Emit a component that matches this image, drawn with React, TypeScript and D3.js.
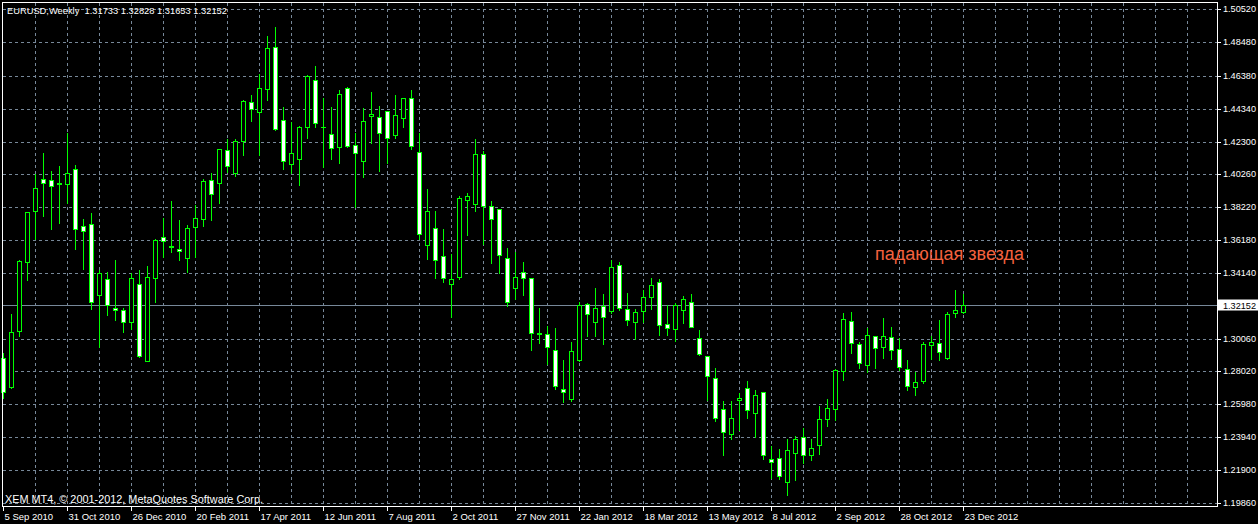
import React from "react";
import * as d3 from "d3";

// Weekly EURUSD candles, 5 Sep 2010 .. 23 Dec 2012
const opens = [
  1.2885, 1.2705, 1.3056, 1.3482, 1.3799, 1.3998, 1.3991, 1.3965, 1.3966, 1.4060,
  1.3705, 1.3718, 1.3277, 1.3376, 1.3196, 1.3183, 1.3109, 1.3345, 1.2867, 1.3382,
  1.3637, 1.3578, 1.3561, 1.3505, 1.3697, 1.3751, 1.3989, 1.3971, 1.4176, 1.4037,
  1.4232, 1.4474, 1.4412, 1.4559, 1.4816, 1.4362, 1.4089, 1.4124, 1.4319, 1.4611,
  1.4318, 1.4275, 1.4195, 1.4561, 1.4207, 1.4108, 1.4387, 1.4381, 1.4418, 1.4269,
  1.4375, 1.4499, 1.4163, 1.3586, 1.3691, 1.3517, 1.3343, 1.3387, 1.3865, 1.3840,
  1.4151, 1.3828, 1.3809, 1.3505, 1.3318, 1.3418, 1.3381, 1.3037, 1.3033, 1.2933,
  1.2691, 1.2629, 1.2871, 1.3219, 1.3107, 1.3206, 1.3175, 1.3461, 1.3188, 1.3107,
  1.3175, 1.3262, 1.3356, 1.3095, 1.3064, 1.3182, 1.3231, 1.3008, 1.2896, 1.2759,
  1.2566, 1.2411, 1.2627, 1.2697, 1.2542, 1.2672, 1.2256, 1.2262, 1.2113, 1.2293,
  1.2392, 1.2281, 1.2343, 1.2504, 1.2566, 1.2803, 1.3113, 1.2970, 1.2840, 1.3020,
  1.2952, 1.3014, 1.2939, 1.2815, 1.2703, 1.2740, 1.2964, 1.2977, 1.2883, 1.3163,
  1.31733,
];
const highs = [
  1.2916, 1.3159, 1.3494, 1.3795, 1.4029, 1.4159, 1.4047, 1.4078, 1.4283, 1.4085,
  1.3749, 1.3786, 1.3432, 1.3420, 1.3494, 1.3196, 1.3413, 1.3432, 1.3457, 1.3625,
  1.3755, 1.3861, 1.3743, 1.3711, 1.3834, 1.3999, 1.4033, 1.4184, 1.4246, 1.4244,
  1.4486, 1.4520, 1.4648, 1.4886, 1.4942, 1.4443, 1.4350, 1.4325, 1.4642, 1.4698,
  1.4501, 1.4445, 1.4551, 1.4571, 1.4282, 1.4437, 1.4536, 1.4449, 1.4420, 1.4520,
  1.4501, 1.4549, 1.4282, 1.3934, 1.3797, 1.3685, 1.3530, 1.3890, 1.3909, 1.4244,
  1.4170, 1.3861, 1.3811, 1.3567, 1.3542, 1.3480, 1.3383, 1.3194, 1.3082, 1.3070,
  1.2873, 1.2983, 1.3231, 1.3225, 1.3318, 1.3281, 1.3492, 1.3480, 1.3289, 1.3188,
  1.3308, 1.3381, 1.3374, 1.3213, 1.3225, 1.3269, 1.3281, 1.3057, 1.2898, 1.2821,
  1.2616, 1.2616, 1.2666, 1.2740, 1.2685, 1.2674, 1.2337, 1.2318, 1.2380, 1.2399,
  1.2448, 1.2382, 1.2585, 1.2629, 1.2815, 1.3163, 1.3169, 1.2983, 1.3070, 1.3022,
  1.3132, 1.3076, 1.3008, 1.2871, 1.2796, 1.2983, 1.3020, 1.3120, 1.3169, 1.3306,
  1.32828,
];
const lows = [
  1.2637, 1.2699, 1.3022, 1.3370, 1.3625, 1.3768, 1.3687, 1.3724, 1.3848, 1.3563,
  1.3438, 1.3190, 1.2954, 1.3152, 1.3121, 1.3047, 1.3065, 1.2891, 1.2867, 1.3233,
  1.3513, 1.3541, 1.3494, 1.3422, 1.3515, 1.3707, 1.3743, 1.3850, 1.4039, 1.4018,
  1.4149, 1.4360, 1.4149, 1.4488, 1.4302, 1.4062, 1.4037, 1.3962, 1.4254, 1.4319,
  1.4069, 1.4124, 1.4099, 1.4195, 1.3822, 1.4012, 1.4223, 1.4049, 1.4099, 1.4250,
  1.4323, 1.4182, 1.3623, 1.3499, 1.3381, 1.3356, 1.3138, 1.3374, 1.3648, 1.3797,
  1.3592, 1.3477, 1.3415, 1.3206, 1.3254, 1.3275, 1.2937, 1.2977, 1.2846, 1.2691,
  1.2614, 1.2620, 1.2868, 1.3020, 1.3020, 1.2970, 1.3163, 1.3182, 1.3088, 1.3001,
  1.3107, 1.3188, 1.3026, 1.3026, 1.2989, 1.3101, 1.3075, 1.2902, 1.2622, 1.2492,
  1.2281, 1.2380, 1.2436, 1.2510, 1.2396, 1.2256, 1.2138, 1.2131, 1.2032, 1.2125,
  1.2231, 1.2250, 1.2287, 1.2461, 1.2498, 1.2747, 1.2914, 1.2821, 1.2796, 1.2821,
  1.2883, 1.2877, 1.2809, 1.2685, 1.2653, 1.2728, 1.2877, 1.2871, 1.2882, 1.3138,
  1.31653,
];
const closes = [
  1.2674, 1.3047, 1.3488, 1.3792, 1.3942, 1.3973, 1.3954, 1.3971, 1.4035, 1.3687,
  1.3674, 1.3233, 1.3413, 1.3215, 1.3183, 1.3109, 1.3382, 1.2898, 1.3389, 1.3618,
  1.3612, 1.3583, 1.3548, 1.3691, 1.3753, 1.3983, 1.3902, 1.4182, 1.4080, 1.4232,
  1.4480, 1.4431, 1.4561, 1.4810, 1.4310, 1.4111, 1.4157, 1.4319, 1.4636, 1.4344,
  1.4323, 1.4188, 1.4524, 1.4204, 1.4157, 1.4356, 1.4400, 1.4282, 1.4250, 1.4393,
  1.4499, 1.4201, 1.3654, 1.3797, 1.3492, 1.3381, 1.3374, 1.3878, 1.3890, 1.4151,
  1.3828, 1.3747, 1.3523, 1.3231, 1.3387, 1.3381, 1.3039, 1.3039, 1.2952, 1.2709,
  1.2672, 1.2927, 1.3213, 1.3157, 1.3194, 1.3138, 1.3449, 1.3194, 1.3120, 1.3169,
  1.3262, 1.3337, 1.3088, 1.3070, 1.3213, 1.3250, 1.3076, 1.2908, 1.2772, 1.2510,
  1.2424, 1.2510, 1.2637, 1.2560, 1.2653, 1.2281, 1.2237, 1.2150, 1.2312, 1.2380,
  1.2281, 1.2324, 1.2504, 1.2573, 1.2809, 1.3126, 1.2977, 1.2852, 1.3026, 1.2946,
  1.3020, 1.2933, 1.2827, 1.2709, 1.2734, 1.2970, 1.2983, 1.2921, 1.3157, 1.3182,
  1.32152,
];

const dateLabels = [
  "5 Sep 2010", "31 Oct 2010", "26 Dec 2010", "20 Feb 2011", "17 Apr 2011",
  "12 Jun 2011", "7 Aug 2011", "2 Oct 2011", "27 Nov 2011", "22 Jan 2012",
  "18 Mar 2012", "13 May 2012", "8 Jul 2012", "2 Sep 2012", "28 Oct 2012",
  "23 Dec 2012",
];
const priceTicks = [
  "1.50520", "1.48480", "1.46380", "1.44340", "1.42300", "1.40260", "1.38220",
  "1.36180", "1.34140", "1.30060", "1.28020", "1.25980", "1.23940", "1.21900",
  "1.19860",
];
const lastPrice = 1.32152;
const titleText = "EURUSD,Weekly  1.31733 1.32828 1.31653 1.32152";
const copyrightText = "XEM MT4, \u00A9 2001-2012, MetaQuotes Software Corp.";
const annotationText = "падающая звезда";

const W = 1258;
const H = 524;
const FRAME = { left: 2.5, top: 2.5, right: 1217.5, bottom: 506.5 };
const FONT = "'Liberation Sans', Arial, sans-serif";
const GRID = "#778899";
const LIME = "#00ff00";

export default function App() {
  const y = d3.scaleLinear().domain([1.1986, 1.5052]).range([502.7, 9.3]);
  const x = d3.scaleLinear().domain([0, 1]).range([3.5, 11.5]);
  const py = (v: number) => Math.round(y(v)) + 0.5;

  const n = opens.length;
  const vGrid: number[] = [];
  for (let i = 4; x(i) < FRAME.right - 4; i += 4) vGrid.push(i);

  const lastY = py(lastPrice);

  return (
    <svg
      width={W}
      height={H}
      style={{ position: "absolute", left: 0, top: 0, display: "block" }}
      fontFamily={FONT}
    >
      <rect x={0} y={0} width={W} height={H} fill="#000" />
      <g shapeRendering="crispEdges">
        {priceTicks.map((t) => (
          <line
            key={"h" + t}
            x1={FRAME.left}
            x2={FRAME.right}
            y1={py(+t)}
            y2={py(+t)}
            stroke={GRID}
            strokeDasharray="3,3"
          />
        ))}
        {vGrid.map((i) => (
          <line
            key={"v" + i}
            x1={x(i)}
            x2={x(i)}
            y1={FRAME.top}
            y2={FRAME.bottom}
            stroke={GRID}
            strokeDasharray="3,3"
          />
        ))}
        <line x1={FRAME.left} x2={FRAME.right} y1={lastY} y2={lastY} stroke={GRID} />
      </g>

      <g shapeRendering="crispEdges">
        {d3.range(n).map((i) => {
          const o = opens[i];
          const c = closes[i];
          const cx = x(i);
          const top = Math.round(y(Math.max(o, c)));
          const bot = Math.round(y(Math.min(o, c)));
          const bear = c < o;
          return (
            <g key={i}>
              <line
                x1={cx}
                x2={cx}
                y1={Math.round(y(highs[i]))}
                y2={Math.round(y(lows[i])) + 1}
                stroke={LIME}
              />
              {bot - top >= 1 ? (
                <rect
                  x={cx - 2}
                  y={top + 0.5}
                  width={4}
                  height={bot - top}
                  fill={bear ? "#fff" : "#000"}
                  stroke={LIME}
                />
              ) : (
                <line x1={cx - 2.5} x2={cx + 2.5} y1={top + 0.5} y2={top + 0.5} stroke={LIME} />
              )}
            </g>
          );
        })}
      </g>

      <rect
        x={FRAME.left}
        y={FRAME.top}
        width={FRAME.right - FRAME.left}
        height={FRAME.bottom - FRAME.top}
        fill="none"
        stroke="#fff"
        shapeRendering="crispEdges"
      />

      {/* price axis */}
      <g fontSize={9.5} fill="#fff">
        {priceTicks.map((t) => (
          <g key={"p" + t}>
            <line
              x1={FRAME.right}
              x2={FRAME.right + 3}
              y1={py(+t)}
              y2={py(+t)}
              stroke="#fff"
              shapeRendering="crispEdges"
            />
            <text x={1223} y={py(+t) + 2.5} textLength={33} lengthAdjust="spacingAndGlyphs">
              {t}
            </text>
          </g>
        ))}
        <rect x={1218} y={lastY - 6} width={40} height={11} fill="#fff" />
        <text x={1223} y={lastY + 3} fill="#000" textLength={33} lengthAdjust="spacingAndGlyphs">
          {lastPrice.toFixed(5)}
        </text>
      </g>

      {/* time axis */}
      <g fontSize={9.5} fill="#fff">
        {dateLabels.map((d, k) => {
          const tx = x(k * 8);
          return (
            <g key={d}>
              <line
                x1={tx}
                x2={tx}
                y1={FRAME.bottom}
                y2={FRAME.bottom + 4}
                stroke="#fff"
                shapeRendering="crispEdges"
              />
              <text x={tx + 1} y={520}>
                {d}
              </text>
            </g>
          );
        })}
      </g>

      <text
        x={7}
        y={14}
        fontSize={9.5}
        fill="#fff"
        style={{ whiteSpace: "pre" }}
        textLength={220}
        lengthAdjust="spacingAndGlyphs"
      >
        {titleText}
      </text>
      <text x={5} y={502.5} fontSize={10} fill="#fff" textLength={258} lengthAdjust="spacingAndGlyphs">
        {copyrightText}
      </text>
      <text x={875} y={260} fontSize={18} fill="#f4623f">
        {annotationText}
      </text>
    </svg>
  );
}
